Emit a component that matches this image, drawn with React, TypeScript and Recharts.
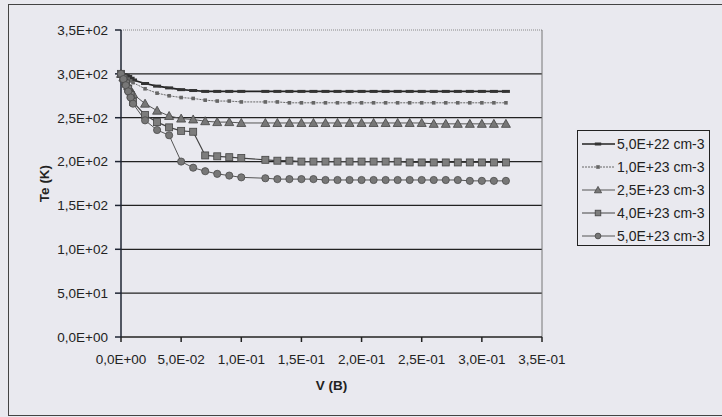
import React from 'react';
import { LineChart, Line, XAxis, YAxis, ReferenceLine, Legend } from 'recharts';

// V (B) sample points
const volts = [
  0, 0.002, 0.004, 0.006, 0.008, 0.01, 0.02, 0.03, 0.04, 0.05, 0.06, 0.07, 0.08, 0.09, 0.1,
  0.12, 0.13, 0.14, 0.15, 0.16, 0.17, 0.18, 0.19, 0.2, 0.21, 0.22, 0.23, 0.24, 0.25, 0.26,
  0.27, 0.28, 0.29, 0.3, 0.31, 0.32,
];

// Te (K) for each concentration
const te5e22 = [
  300, 299, 298, 297, 295, 293, 289, 286, 284, 282, 281, 280, 280, 280, 280,
  280, 280, 280, 280, 280, 280, 280, 280, 280, 280, 280, 280, 280, 280, 280,
  280, 280, 280, 280, 280, 280,
];
const te1e23 = [
  300, 298, 296, 294, 292, 290, 283, 278, 275, 273, 272, 270, 269, 269, 268,
  268, 268, 267, 267, 267, 267, 267, 267, 267, 267, 267, 267, 267, 267, 267,
  267, 267, 267, 267, 267, 267,
];
const te25e23 = [
  300, 296, 291, 286, 281, 277, 266, 258, 252, 249, 248, 246, 245, 245, 244,
  244, 244, 244, 244, 244, 244, 244, 244, 244, 244, 244, 244, 244, 244, 243,
  243, 243, 243, 243, 243, 243,
];
const te4e23 = [
  300, 295, 289, 283, 276, 268, 253, 245, 239, 235, 234, 207, 206, 205, 204,
  202, 201, 201, 200, 200, 200, 200, 200, 200, 200, 200, 200, 199, 199, 199,
  199, 199, 199, 199, 199, 199,
];
const te5e23 = [
  300, 294, 287, 280, 273, 266, 247, 236, 230, 200, 193, 189, 186, 184, 182,
  181, 180, 180, 180, 180, 179, 179, 179, 179, 179, 179, 179, 179, 179, 179,
  179, 179, 178, 178, 178, 178,
];

const xTicks = [0, 0.05, 0.1, 0.15, 0.2, 0.25, 0.3, 0.35];
const yTicks = [0, 50, 100, 150, 200, 250, 300, 350];
const gridValues = [50, 100, 150, 200, 250, 300];

const series = [
  { key: 's1', name: '5,0E+22 cm-3', values: te5e22, mark: 'dash', stroke: '#222', width: 1.6, dash: undefined },
  { key: 's2', name: '1,0E+23 cm-3', values: te1e23, mark: 'small', stroke: '#666', width: 1, dash: '2 1' },
  { key: 's3', name: '2,5E+23 cm-3', values: te25e23, mark: 'tri', stroke: '#555', width: 1, dash: undefined },
  { key: 's4', name: '4,0E+23 cm-3', values: te4e23, mark: 'sq', stroke: '#444', width: 1.2, dash: undefined },
  { key: 's5', name: '5,0E+23 cm-3', values: te5e23, mark: 'circ', stroke: '#555', width: 1, dash: undefined },
];

const data = volts.map((v, i) => {
  const row: Record<string, number> = { v };
  series.forEach((s) => (row[s.key] = s.values[i]));
  return row;
});

const FONT = '"Liberation Sans", Arial, sans-serif';
const BG = '#e9e9ef';

function sci(v: number) {
  if (v === 0) return '0,0E+00';
  const [m, e] = v.toExponential(1).split('e');
  const n = parseInt(e, 10);
  return `${m.replace('.', ',')}E${n < 0 ? '-' : '+'}${String(Math.abs(n)).padStart(2, '0')}`;
}

function Mark({ type, cx, cy, k = 1 }: { type: string; cx: number; cy: number; k?: number }) {
  if (cx == null || cy == null) return null;
  switch (type) {
    case 'dash':
      return <rect x={cx - 4 * k} y={cy - 1.5} width={8 * k} height={3} fill="#333" />;
    case 'small':
      return <rect x={cx - 1.8} y={cy - 1.8} width={3.6} height={3.6} fill="#666" />;
    case 'tri':
      return (
        <polygon
          points={`${cx},${cy - 4.5 * k} ${cx + 4.5 * k},${cy + 3.5 * k} ${cx - 4.5 * k},${cy + 3.5 * k}`}
          fill="#777"
          stroke="#444"
          strokeWidth={0.8}
        />
      );
    case 'sq':
      return (
        <rect
          x={cx - 3.5 * k}
          y={cy - 3.5 * k}
          width={7 * k}
          height={7 * k}
          fill="#7d7d7d"
          stroke="#444"
          strokeWidth={0.8}
        />
      );
    default:
      return <circle cx={cx} cy={cy} r={3.6 * k} fill="#777" stroke="#4a4a4a" strokeWidth={0.8} />;
  }
}

function LegendBox() {
  return (
    <div
      style={{
        border: '1.5px solid #222',
        boxSizing: 'border-box',
        width: 133,
        height: 116,
        paddingTop: 1,
        fontFamily: FONT,
        fontSize: 14,
        color: '#222',
      }}
    >
      {series.map((s) => (
        <div key={s.key} style={{ display: 'flex', alignItems: 'center', height: 23 }}>
          <svg width={39} height={12} style={{ flex: 'none' }}>
            <line x1={4} y1={6} x2={37} y2={6} stroke={s.stroke} strokeWidth={s.width} strokeDasharray={s.dash} />
            <Mark type={s.mark} cx={20} cy={6} k={0.8} />
          </svg>
          <span style={{ whiteSpace: 'nowrap' }}>{s.name}</span>
        </div>
      ))}
    </div>
  );
}

export default function App() {
  const tick = { fontSize: 13.5, fill: '#222', fontFamily: FONT };
  return (
    <div style={{ position: 'fixed', left: 0, top: 0, width: 722, height: 417, background: BG, overflow: 'hidden' }}>
      <div
        style={{
          position: 'absolute',
          left: 8,
          top: 4,
          width: 730,
          height: 410,
          border: '1.5px solid #444',
        }}
      />
      <div style={{ position: 'absolute', left: 0, top: 0 }}>
        <LineChart width={722} height={417} data={data} margin={{ top: 30, right: 180, bottom: 0, left: 0 }}>
          <XAxis
            dataKey="v"
            type="number"
            domain={[0, 0.35]}
            ticks={xTicks}
            tickFormatter={sci}
            tick={tick}
            tickSize={5}
            tickMargin={12}
            height={80}
            stroke="#222"
            strokeWidth={1.5}
            label={{
              value: 'V (B)',
              position: 'insideBottom',
              offset: 27,
              style: { fontSize: 13.5, fontWeight: 'bold', fill: '#222', fontFamily: FONT },
            }}
          />
          <YAxis
            type="number"
            domain={[0, 350]}
            ticks={yTicks}
            tickFormatter={sci}
            tick={tick}
            tickSize={6}
            tickMargin={7}
            width={121}
            stroke="#1e2433"
            strokeWidth={1.5}
            label={{
              value: 'Te (K)',
              angle: -90,
              position: 'insideLeft',
              offset: 44,
              style: { fontSize: 13.5, fontWeight: 'bold', fill: '#222', fontFamily: FONT, textAnchor: 'middle' },
            }}
          />
          {gridValues.map((g) => (
            <ReferenceLine key={g} y={g} stroke="#222" strokeWidth={1.3} />
          ))}
          <ReferenceLine y={350} stroke="#888" strokeDasharray="1 1" />
          <ReferenceLine x={0.35} stroke="#777" />
          <Legend
            layout="horizontal"
            align="center"
            verticalAlign="middle"
            wrapperStyle={{ left: 577, top: 130, width: 133, height: 116 }}
            content={() => <LegendBox />}
          />
          {series.map((s) => (
            <Line
              key={s.key}
              type="linear"
              dataKey={s.key}
              name={s.name}
              stroke={s.stroke}
              strokeWidth={s.width}
              strokeDasharray={s.dash}
              isAnimationActive={false}
              activeDot={false}
              dot={(p: any) => <Mark key={`${s.key}-${p.index}`} type={s.mark} cx={p.cx} cy={p.cy} />}
            />
          ))}
        </LineChart>
      </div>
    </div>
  );
}
